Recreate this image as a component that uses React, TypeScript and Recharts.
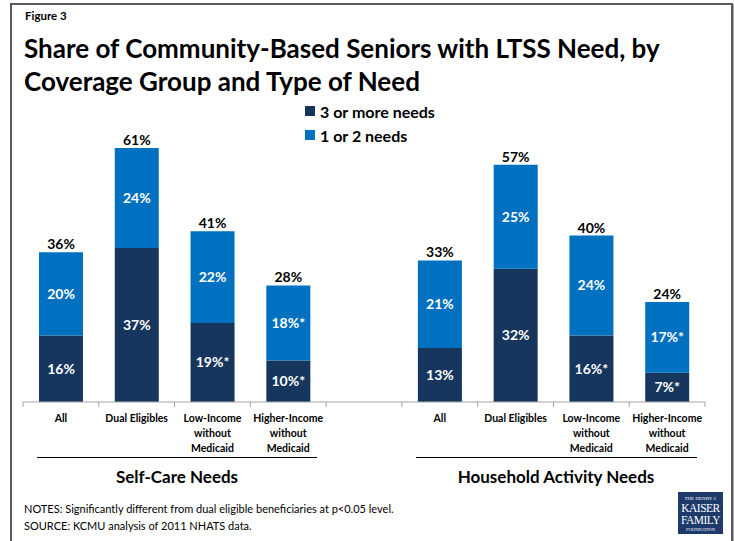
import React from "react";
import { BarChart, Bar, XAxis, YAxis, LabelList } from "recharts";

const categories = ["All", "Dual Eligibles", "Low-Income without Medicaid", "Higher-Income without Medicaid"];
const categoryLines = [["All"], ["Dual Eligibles"], ["Low-Income", "without", "Medicaid"], ["Higher-Income", "without", "Medicaid"]];

const selfCareThreePlus = [16, 37, 19, 10];
const selfCareOneTwo = [20, 24, 22, 18];
const selfCareTotal = [36, 61, 41, 28];
const selfCareThreePlusSig = [false, false, true, true];
const selfCareOneTwoSig = [false, false, false, true];

const householdThreePlus = [13, 32, 16, 7];
const householdOneTwo = [21, 25, 24, 17];
const householdTotal = [33, 57, 40, 24];
const householdThreePlusSig = [false, false, true, true];
const householdOneTwoSig = [false, false, false, true];

const groupNames = ["Self-Care Needs", "Household Activity Needs"];
const seriesNames = ["3 or more needs", "1 or 2 needs"];

const DARK = "#17365D";
const LIGHT = "#0070C0";
const FONT = "Lato, 'Open Sans', sans-serif";

const pct = (v: number, sig: boolean) => `${v}%${sig ? "*" : ""}`;

type Row = {
  key: string;
  lines: string[];
  three: number | null;
  one: number | null;
  threeLabel: string;
  oneLabel: string;
  totalLabel: string;
};

const buildRows = (prefix: string, three: number[], one: number[], total: number[], threeSig: boolean[], oneSig: boolean[]): Row[] =>
  categories.map((c, i) => ({
    key: `${prefix}-${c}`,
    lines: categoryLines[i],
    three: three[i],
    one: one[i],
    threeLabel: pct(three[i], threeSig[i]),
    oneLabel: pct(one[i], oneSig[i]),
    totalLabel: `${total[i]}%`,
  }));

const data: Row[] = [
  ...buildRows("sc", selfCareThreePlus, selfCareOneTwo, selfCareTotal, selfCareThreePlusSig, selfCareOneTwoSig),
  { key: "gap", lines: [], three: null, one: null, threeLabel: "", oneLabel: "", totalLabel: "" },
  ...buildRows("ha", householdThreePlus, householdOneTwo, householdTotal, householdThreePlusSig, householdOneTwoSig),
];

const W = 734;
const H = 541;
const M = { top: 69, right: 29, left: 23, bottom: 109 };
const BAND = (W - M.left - M.right) / data.length;

const Tick = (props: any) => {
  const { x, y, payload, index } = props;
  const row = data.find((d) => d.key === payload.value);
  const lines = row ? row.lines : [];
  return (
    <g>
      <line x1={x - BAND / 2} x2={x - BAND / 2} y1={y} y2={y + 5} stroke="#A6A6A6" strokeWidth={1} />
      {index === data.length - 1 && (
        <line x1={x + BAND / 2} x2={x + BAND / 2} y1={y} y2={y + 5} stroke="#A6A6A6" strokeWidth={1} />
      )}
      {lines.map((l, i) => (
        <text key={i} x={x} y={y + 20 + i * 15} textAnchor="middle" fontFamily={FONT} fontWeight={700} fontSize={10.5} fill="#000">
          {l}
        </text>
      ))}
    </g>
  );
};

export default function App() {
  return (
    <div style={{ position: "absolute", left: 0, top: 0, width: W, height: H, overflow: "hidden", background: "#fff" }}>
      <div
        style={{
          position: "absolute",
          left: 10,
          top: 3,
          width: 719,
          height: 600,
          borderLeft: "2px solid #5a5a5a",
          borderTop: "2px solid #5a5a5a",
          borderRight: "2px solid #5a5a5a",
          boxShadow: "1px 1px 1px #aaa",
        }}
      />
      <div style={{ position: "absolute", left: 25, top: 9, fontFamily: FONT, fontWeight: 700, fontSize: 11.5 }}>Figure 3</div>
      <div style={{ position: "absolute", left: 24, top: 32, fontFamily: FONT, fontWeight: 700, fontSize: 26, lineHeight: "33px", whiteSpace: "nowrap" }}>
        Share of Community-Based Seniors with LTSS Need, by
        <br />
        Coverage Group and Type of Need
      </div>

      <div style={{ position: "absolute", left: 0, top: 0 }}>
        <BarChart width={W} height={H} data={data} margin={M} barSize={44}>
          <YAxis hide domain={[0, 80]} />
          <XAxis
            dataKey="key"
            interval={0}
            tickLine={false}
            tickSize={0}
            tickMargin={0}
            axisLine={{ stroke: "#A6A6A6" }}
            tick={<Tick />}
          />
          <Bar dataKey="three" stackId="a" fill={DARK} isAnimationActive={false} name={seriesNames[0]}>
            <LabelList dataKey="threeLabel" position="center" fill="#fff" fontFamily={FONT} fontWeight={700} fontSize={14} />
          </Bar>
          <Bar dataKey="one" stackId="a" fill={LIGHT} isAnimationActive={false} name={seriesNames[1]}>
            <LabelList dataKey="oneLabel" position="center" fill="#fff" fontFamily={FONT} fontWeight={700} fontSize={14} />
            <LabelList dataKey="totalLabel" position="top" offset={3} fill="#000" fontFamily={FONT} fontWeight={700} fontSize={14} />
          </Bar>
        </BarChart>
      </div>

      <div style={{ position: "absolute", left: 305, top: 99, fontFamily: FONT, fontWeight: 700, fontSize: 16, color: "#000" }}>
        {seriesNames.map((n, i) => (
          <div key={n} style={{ display: "flex", alignItems: "center", height: 24 }}>
            <span style={{ display: "inline-block", width: 10, height: 10, background: i === 0 ? DARK : LIGHT, marginRight: 5 }} />
            <span>{n}</span>
          </div>
        ))}
      </div>

      <div style={{ position: "absolute", left: 37, top: 457, width: 280, height: 1, background: "#000" }} />
      <div style={{ position: "absolute", left: 416, top: 457, width: 281, height: 1, background: "#000" }} />
      <div style={{ position: "absolute", left: 37, top: 466, width: 280, textAlign: "center", fontFamily: FONT, fontWeight: 700, fontSize: 17 }}>
        {groupNames[0]}
      </div>
      <div style={{ position: "absolute", left: 406, top: 466, width: 300, textAlign: "center", fontFamily: FONT, fontWeight: 700, fontSize: 17 }}>
        {groupNames[1]}
      </div>

      <div style={{ position: "absolute", left: 24, top: 500, fontFamily: FONT, fontSize: 11, lineHeight: "17px", whiteSpace: "nowrap" }}>
        NOTES: Significantly different from dual eligible beneficiaries at p&lt;0.05 level.
        <br />
        SOURCE: KCMU analysis of 2011 NHATS data.
      </div>

      <div
        style={{
          position: "absolute",
          left: 678,
          top: 492,
          width: 45,
          height: 42,
          background: "#1E3A6B",
          color: "#fff",
          fontFamily: "'Liberation Serif', serif",
          textAlign: "center",
          lineHeight: 1,
        }}
      >
        <div style={{ fontSize: 5, marginTop: 4 }}>THE HENRY J.</div>
        <div style={{ fontSize: 11.5, marginTop: 2, letterSpacing: -0.5 }}>KAISER</div>
        <div style={{ fontSize: 11.5, letterSpacing: -0.5 }}>FAMILY</div>
        <div style={{ fontSize: 4.5, marginTop: 2 }}>FOUNDATION</div>
      </div>
    </div>
  );
}
